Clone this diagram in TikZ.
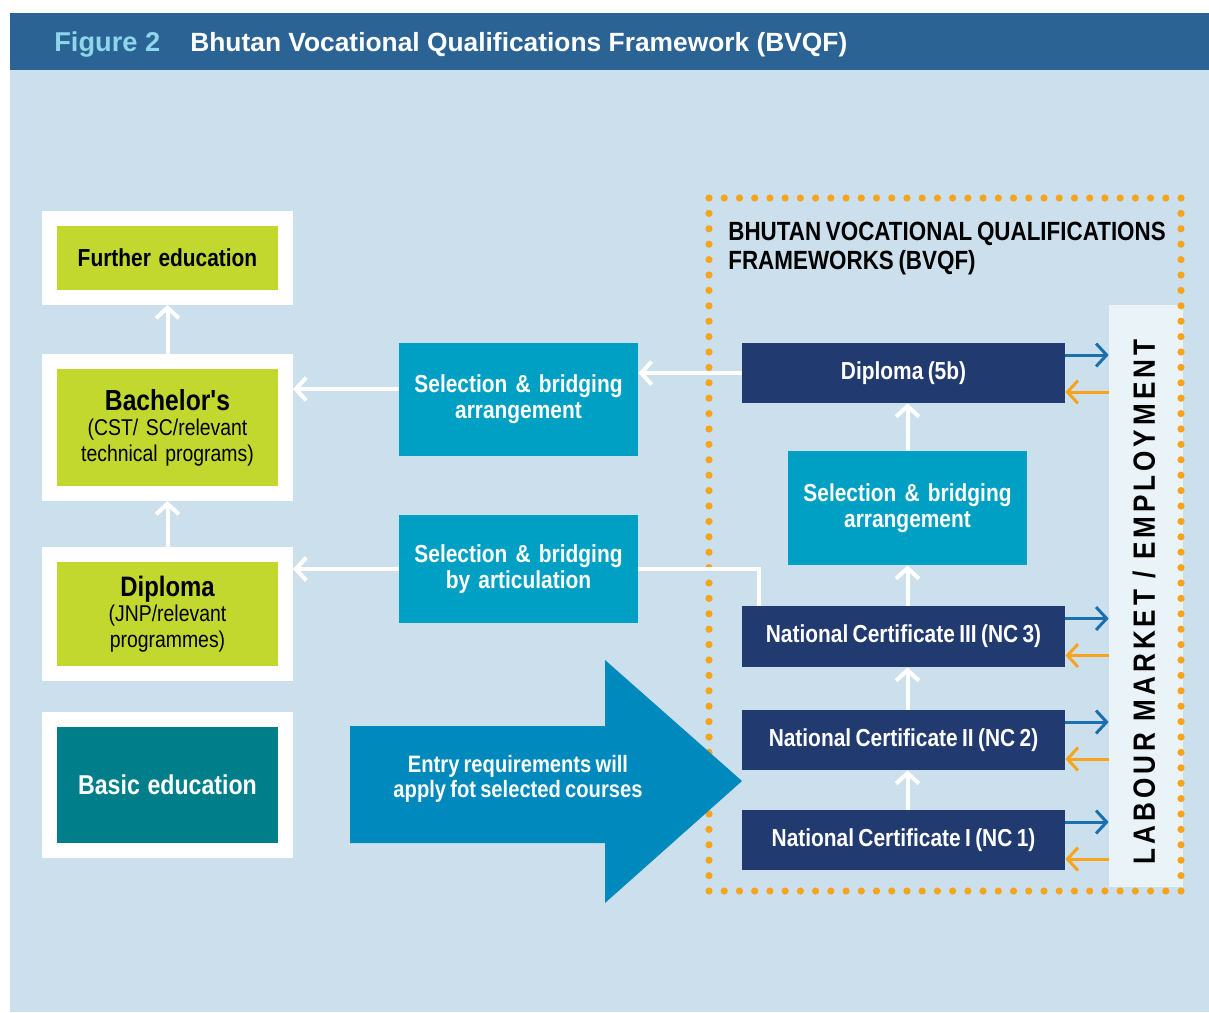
\documentclass[tikz,border=0pt]{standalone}
\usepackage{fontspec}
\setmainfont{Liberation Sans}
\newfontfamily\condfont[FakeStretch=0.85,WordSpace=0.75]{Liberation Sans}
\newfontfamily\barfont[FakeStretch=0.85,LetterSpace=13]{Liberation Sans}
\usetikzlibrary{arrows.meta,positioning}

\newlength{\unitpx}
\setlength{\unitpx}{0.02cm}

\definecolor{bgblue}{HTML}{CBE0EC}
\definecolor{titleblue}{HTML}{2A6394}
\definecolor{figcyan}{HTML}{8FD6EA}
\definecolor{limegreen}{HTML}{C3D82E}
\definecolor{basicteal}{HTML}{007F8B}
\definecolor{selcyan}{HTML}{00A0C4}
\definecolor{navy}{HTML}{213A70}
\definecolor{entryblue}{HTML}{0089BC}
\definecolor{dotorange}{HTML}{F8A31C}
\definecolor{barwhite}{HTML}{E9F3F8}
\definecolor{outblue}{HTML}{1A6FAE}

\tikzset{
	lbox/.style={draw=white, line width=15\unitpx, fill=limegreen, minimum width=236\unitpx,
		text width=215\unitpx, align=center, inner sep=0pt, font=\condfont\fontsize{13}{14.5}\selectfont},
	selbox/.style={fill=selcyan, minimum width=239\unitpx, text width=230\unitpx, align=center,
		inner sep=0pt, text=white, font=\condfont\bfseries\fontsize{14}{14.8}\selectfont},
	ncbox/.style={fill=navy, minimum width=323\unitpx, minimum height=60\unitpx, inner sep=0pt,
		text=white, font=\condfont\bfseries\fontsize{14}{16}\selectfont},
	wharrow/.style={draw=white, line width=4\unitpx, -{Straight Barb[length=6pt,width=13pt]}},
	whline/.style={draw=white, line width=4\unitpx},
	outarrow/.style={draw=outblue, line width=3\unitpx, -{Straight Barb[length=6pt,width=13pt]}},
	inarrow/.style={draw=dotorange, line width=3\unitpx, -{Straight Barb[length=6pt,width=13pt]}},
	dot/.style={fill=dotorange}
}

\begin{document}
\begin{tikzpicture}[x=0.02cm,y=-0.02cm]
	\useasboundingbox (0,0) rectangle (1209,1012);
	\fill[bgblue] (10,70) rectangle (1209,1012);
	\fill[titleblue] (10,13) rectangle (1209,70);

	\node[anchor=base west, inner sep=0pt, text=figcyan, font=\bfseries\fontsize{15.5}{17}\selectfont] (figlabel) at (54,51) {Figure 2};
	\node[anchor=base west, inner sep=0pt, text=white, font=\bfseries\fontsize{15}{17}\selectfont] (figtitle) at (190,51) {Bhutan Vocational Qualifications Framework (BVQF)};

	% left column
	\node[lbox, minimum height=79\unitpx] (further) at (167.5,258) {\bfseries\fontsize{14}{15}\selectfont Further education};
	\node[lbox, minimum height=132\unitpx] (bach) at (167.5,427.5) {{\bfseries\fontsize{16.5}{17}\selectfont Bachelor's}\\(CST/ SC/relevant\\technical programs)};
	\node[lbox, minimum height=119\unitpx] (dipl) at (167.5,614) {{\bfseries\fontsize{16}{17}\selectfont Diploma}\\(JNP/relevant\\programmes)};
	\node[lbox, fill=basicteal, text=white, minimum height=131\unitpx] (basic) at (167.5,785) {\bfseries\fontsize{15.5}{17}\selectfont Basic education};

	\draw[wharrow] (bach.north) -- (further.south);
	\draw[wharrow] (dipl.north) -- (bach.south);

	% selection boxes
	\node[selbox, minimum height=113\unitpx] (sel1) at (518.5,399.5) {Selection \& bridging\\arrangement};
	\node[selbox, minimum height=108\unitpx] (sel2) at (518.5,569) {Selection \& bridging\\by articulation};

	% BVQF frame
	\node[fill=barwhite, minimum width=74\unitpx, minimum height=582\unitpx, inner sep=0pt] (labour) at (1146,596) {};
	\node[rotate=90, inner sep=0pt, font=\barfont\bfseries\fontsize{17.5}{17.5}\selectfont] (labourtxt) at (1144,602) {LABOUR MARKET / EMPLOYMENT};

	\foreach \i in {0,...,31} {
		\fill[dot] ({709+\i*15.226},198) circle (3.6\unitpx);
		\fill[dot] ({709+\i*15.226},891) circle (3.6\unitpx);
	}
	\foreach \j in {1,...,44} {
		\fill[dot] (709,{198+\j*15.4}) circle (3.6\unitpx);
		\fill[dot] (1181,{198+\j*15.4}) circle (3.6\unitpx);
	}

	\node[anchor=north west, align=left, inner sep=0pt, font=\condfont\bfseries\fontsize{15}{16.5}\selectfont] (bvqfhead) at (728,222) {BHUTAN VOCATIONAL QUALIFICATIONS\\FRAMEWORKS (BVQF)};

	\node[ncbox] (d5b) at (903.5,373) {Diploma (5b)};
	\node[selbox, minimum height=114\unitpx] (sel3) at (907.5,508) {Selection \& bridging\\arrangement};
	\node[ncbox, minimum height=61\unitpx] (nc3) at (903.5,636.5) {National Certificate III (NC 3)};
	\node[ncbox] (nc2) at (903.5,740) {National Certificate II (NC 2)};
	\node[ncbox] (nc1) at (903.5,840) {National Certificate I (NC 1)};

	% entry arrow
	\fill[entryblue] (350,726) -- (605,726) -- (605,660) -- (742,781) -- (605,903) -- (605,843) -- (350,843) -- cycle;
	\node[align=center, text=white, inner sep=0pt, font=\condfont\bfseries\fontsize{13.5}{14.5}\selectfont] (entry) at (518,779) {Entry requirements will\\apply fot selected courses};

	% connectors
	\draw[wharrow] ([yshift=10.5\unitpx]sel1.west) -- ([yshift=10.5\unitpx]sel1.west -| bach.east);
	\draw[wharrow] (sel2.west) -- (sel2.west -| dipl.east);
	\draw[wharrow] (d5b.west) -- (d5b.west -| sel1.east);
	\draw[whline] (sel2.east) -| ([xshift=17\unitpx]nc3.north west);

	\draw[wharrow] (sel3.north) -- (sel3.north |- d5b.south);
	\draw[wharrow] (nc3.north -| sel3.south) -- (sel3.south);
	\draw[wharrow] (nc2.north -| sel3.south) -- (nc3.south -| sel3.south);
	\draw[wharrow] (nc1.north -| sel3.south) -- (nc2.south -| sel3.south);

	\foreach \n in {d5b,nc3,nc2,nc1} {
		\draw[outarrow] ([yshift=18\unitpx]\n.east) -- ([yshift=18\unitpx]\n.east -| labour.west);
		\draw[inarrow] ([yshift=-19\unitpx]\n.east -| labour.west) -- ([yshift=-19\unitpx]\n.east);
	}
\end{tikzpicture}
\end{document}
